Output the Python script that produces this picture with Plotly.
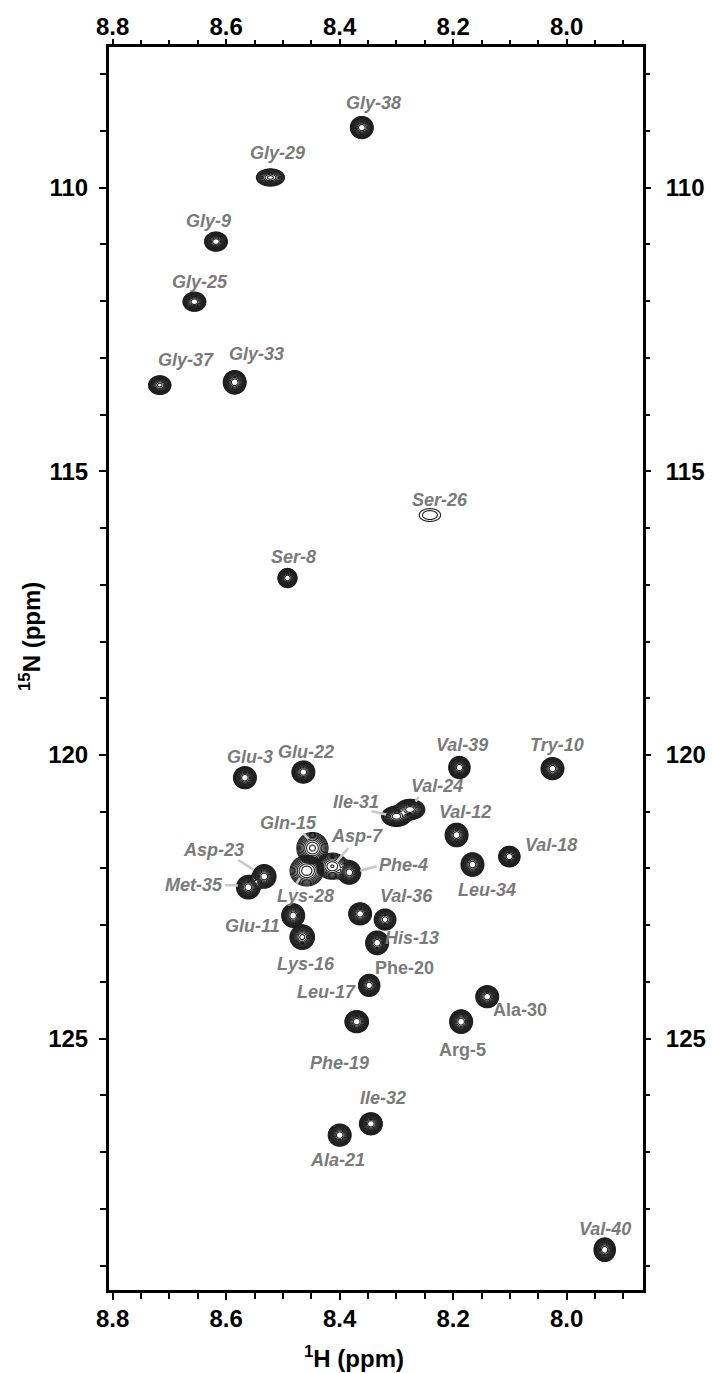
import numpy as np
import plotly.graph_objects as go

# ---- peak list (1H, 15N chemical shifts in ppm) ----
residues = ["Gly-38", "Gly-29", "Gly-9", "Gly-25", "Gly-37", "Gly-33", "Ser-26", "Ser-8",
            "Glu-3", "Glu-22", "Val-39", "Try-10", "Ile-31", "Val-24", "Val-12", "Leu-34",
            "Val-18", "Gln-15", "Lys-28", "Asp-7", "Phe-4", "Asp-23", "Met-35", "Glu-11",
            "Lys-16", "Val-36", "His-13", "Phe-20", "Leu-17", "Phe-19", "Arg-5", "Ala-30",
            "Ile-32", "Ala-21", "Val-40"]
h_ppm = [8.361, 8.522, 8.618, 8.656, 8.717, 8.585, 8.241, 8.492,
         8.567, 8.464, 8.189, 8.025, 8.300, 8.276, 8.194, 8.166,
         8.101, 8.448, 8.458, 8.413, 8.383, 8.533, 8.561, 8.482,
         8.466, 8.364, 8.320, 8.334, 8.348, 8.370, 8.186, 8.140,
         8.345, 8.400, 7.933]
n_ppm = [108.94, 109.82, 110.95, 112.01, 113.48, 113.43, 115.77, 116.88,
         120.40, 120.30, 120.22, 120.24, 121.08, 120.96, 121.41, 121.93,
         121.79, 121.64, 122.04, 121.96, 122.07, 122.14, 122.33, 122.83,
         123.21, 122.80, 122.90, 123.31, 124.06, 124.70, 124.70, 124.26,
         126.50, 126.70, 128.72]
intensity = [1.0, 0.35, 1.0, 1.0, 0.8, 1.0, 0.011, 1.0,
             1.0, 1.0, 1.0, 1.0, 1.0, 1.0, 1.0, 1.0,
             1.0, 0.22, 0.18, 0.2, 1.0, 1.0, 1.0, 1.0,
             0.8, 1.0, 0.6, 1.0, 1.0, 1.0, 1.0, 1.0,
             1.0, 1.0, 1.0]
# line widths (Gaussian sigma, ppm)
lw_h = [0.0062, 0.0085, 0.0062, 0.0062, 0.0062, 0.0062, 0.0150, 0.0052,
        0.0062, 0.0062, 0.0058, 0.0062, 0.0080, 0.0080, 0.0062, 0.0062,
        0.0058, 0.0100, 0.0110, 0.0100, 0.0062, 0.0064, 0.0064, 0.0062,
        0.0068, 0.0062, 0.0062, 0.0062, 0.0058, 0.0064, 0.0062, 0.0062,
        0.0062, 0.0062, 0.0058]
lw_n = [0.060, 0.052, 0.052, 0.052, 0.052, 0.064, 0.090, 0.052,
        0.060, 0.060, 0.060, 0.060, 0.055, 0.055, 0.064, 0.064,
        0.056, 0.100, 0.100, 0.085, 0.064, 0.064, 0.064, 0.064,
        0.068, 0.060, 0.060, 0.064, 0.060, 0.060, 0.064, 0.060,
        0.060, 0.060, 0.064]

# label anchor points (ppm) and upright/italic style
label_h = [8.340, 8.510, 8.632, 8.646, 8.670, 8.547, 8.223, 8.481,
           8.558, 8.459, 8.184, 8.017, 8.371, 8.229, 8.179, 8.140,
           8.028, 8.491, 8.461, 8.370, 8.288, 8.622, 8.657, 8.553,
           8.460, 8.283, 8.273, 8.285, 8.424, 8.400, 8.183, 8.082,
           8.324, 8.403, 7.932]
label_n = [108.51, 109.38, 110.59, 111.66, 113.04, 112.93, 115.50, 116.51,
           120.03, 119.94, 119.82, 119.82, 120.82, 120.55, 121.00, 122.38,
           121.58, 121.20, 122.48, 121.42, 121.94, 121.67, 122.29, 123.02,
           123.68, 122.49, 123.22, 123.75, 124.17, 125.43, 125.20, 124.49,
           126.04, 127.14, 128.36]
upright = {"Phe-20", "Arg-5", "Ala-30"}

# leader lines: (H start, N start, H end, N end)
leaders = [(8.579, 121.85, 8.552, 122.02), (8.602, 122.29, 8.579, 122.30),
           (8.464, 121.38, 8.455, 121.48), (8.385, 121.64, 8.405, 121.88),
           (8.335, 121.96, 8.364, 122.04), (8.476, 122.26, 8.470, 122.17),
           (8.344, 120.99, 8.318, 121.05), (8.261, 120.74, 8.266, 120.82)]

x_range = [8.8065, 7.8655]
y_range = [129.43, 107.52]

H = np.array(h_ppm); N = np.array(n_ppm); A = np.array(intensity)
SH = np.array(lw_h); SN = np.array(lw_n)

# group overlapping peaks so each cluster is contoured on its own local grid
n = len(H)
parent = list(range(n))
def find(i):
    while parent[i] != i:
        parent[i] = parent[parent[i]]
        i = parent[i]
    return i
for i in range(n):
    for j in range(i + 1, n):
        if np.hypot((H[i] - H[j]) / 0.035, (N[i] - N[j]) / 0.35) < 1.0:
            parent[find(i)] = find(j)
groups = {}
for i in range(n):
    groups.setdefault(find(i), []).append(i)

# geometric contour levels -> linear levels on log intensity
L0, factor, nlev = 0.005, 1.5, 13
lev_start = np.log(L0)
lev_size = np.log(factor)
lev_end = lev_start + lev_size * (nlev - 1)

fig = go.Figure()
for idx in groups.values():
    h0 = H[idx].min() - 0.05; h1 = H[idx].max() + 0.05
    n0 = N[idx].min() - 0.5; n1 = N[idx].max() + 0.5
    xs = np.arange(h0, h1, 0.0009)
    ys = np.arange(n0, n1, 0.009)
    X, Y = np.meshgrid(xs, ys)
    Z = np.zeros_like(X)
    for k in idx:
        Z += A[k] * np.exp(-0.5 * (((X - H[k]) / SH[k]) ** 2 + ((Y - N[k]) / SN[k]) ** 2))
    fig.add_trace(go.Contour(
        x=xs, y=ys, z=np.log(np.maximum(Z, 1e-9)),
        contours=dict(start=lev_start, end=lev_end, size=lev_size, coloring="lines"),
        colorscale=[[0, "#1e1e1e"], [1, "#1e1e1e"]], showscale=False,
        line=dict(width=1.1), hoverinfo="skip"))

# leader lines
for (xa, ya, xb, yb) in leaders:
    fig.add_trace(go.Scatter(x=[xa, xb], y=[ya, yb], mode="lines",
                             line=dict(color="#c8c8c8", width=2.5),
                             hoverinfo="skip", showlegend=False))

# mirror axes (top / right) carry their own tick labels
fig.add_trace(go.Scatter(x=[8.4], y=[118], xaxis="x2", yaxis="y2", mode="markers",
                         marker=dict(opacity=0), showlegend=False, hoverinfo="skip"))

for r, lh, ln in zip(residues, label_h, label_n):
    fig.add_annotation(x=lh, y=ln, xref="x", yref="y", text=r, showarrow=False,
                       font=dict(family="Liberation Sans", size=18, color="#7a7a7a",
                                 weight="bold", style="normal" if r in upright else "italic"))

tickfont = dict(family="Liberation Sans", size=24, color="black", weight="bold")
xt = [8.8, 8.6, 8.4, 8.2, 8.0]
xminor = [round(8.8 - 0.05 * i, 2) for i in range(19)]
yt = [110, 115, 120, 125]
yminor = list(range(108, 130))

xcommon = dict(range=x_range, tickvals=xt, ticktext=[f"{v:.1f}" for v in xt],
               ticks="outside", ticklen=7, tickwidth=2, tickcolor="black",
               minor=dict(tickvals=xminor, ticks="outside", ticklen=6, tickwidth=1.5, tickcolor="black"),
               showgrid=False, zeroline=False, tickfont=tickfont, automargin=False)
ycommon = dict(range=y_range, tickvals=yt, ticktext=[str(v) for v in yt],
               ticks="outside", ticklen=7, tickwidth=2, tickcolor="black",
               minor=dict(tickvals=yminor, ticks="outside", ticklen=6, tickwidth=1.5, tickcolor="black"),
               showgrid=False, zeroline=False, tickfont=tickfont, automargin=False)

fig.update_layout(
    width=712, height=1373,
    margin=dict(l=109, r=69, t=47, b=83),
    paper_bgcolor="white", plot_bgcolor="white",
    showlegend=False,
    xaxis=dict(**xcommon, showline=True, linewidth=3, linecolor="black", mirror=True,
               ticklabelstandoff=-2),
    yaxis=dict(**ycommon, showline=True, linewidth=3, linecolor="black", mirror=True,
               ticklabelstandoff=6),
    xaxis2=dict(**xcommon, overlaying="x", side="top", anchor="y2", showline=False,
                ticklabelstandoff=-6),
    yaxis2=dict(**ycommon, overlaying="y", side="right", anchor="x2", showline=False,
                ticklabelstandoff=10),
)

# axis titles, placed in pixel terms then converted to paper fractions
pw = 712 - 109 - 69; ph = 1373 - 47 - 83
def px_to_paper(xp, yp):
    return (xp - 109) / pw, (1373 - 83 - yp) / ph

tx, ty = px_to_paper(354, 1357)
fig.add_annotation(x=tx, y=ty, xref="paper", yref="paper", text="<sup>1</sup>H (ppm)",
                   xanchor="center", yanchor="middle", showarrow=False,
                   font=dict(family="Liberation Sans", size=24, color="black", weight="bold"))
tx, ty = px_to_paper(30, 637)
fig.add_annotation(x=tx, y=ty, xref="paper", yref="paper", text="<sup>15</sup>N (ppm)", textangle=-90,
                   xanchor="center", yanchor="middle", showarrow=False,
                   font=dict(family="Liberation Sans", size=24, color="black", weight="bold"))

fig.write_html("out.html")
